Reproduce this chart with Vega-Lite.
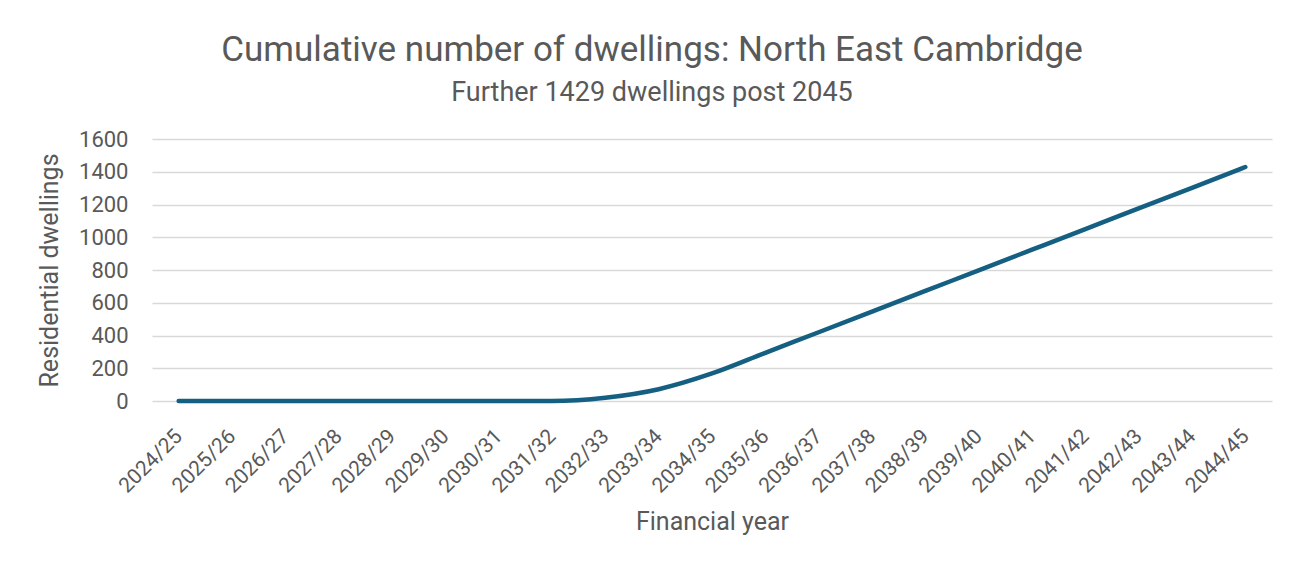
{
  "$schema": "https://vega.github.io/schema/vega-lite/v6.json",
  "autosize": "none",
  "width": 1120,
  "height": 262,
  "padding": {"left": 152, "top": 139, "right": 29, "bottom": 168},
  "background": "white",
  "title": {
    "text": "Cumulative number of dwellings: North East Cambridge",
    "subtitle": "Further 1429 dwellings post 2045",
    "anchor": "middle",
    "frame": "group",
    "dx": -60,
    "offset": 22,
    "font": "Roboto",
    "fontSize": 35,
    "fontWeight": "normal",
    "color": "#595959",
    "subtitleFont": "Roboto",
    "subtitleFontSize": 27,
    "subtitleColor": "#595959",
    "subtitlePadding": 12
  },
  "data": {
    "values": [
      {"year": "2024/25", "dwellings": 0},
      {"year": "2025/26", "dwellings": 0},
      {"year": "2026/27", "dwellings": 0},
      {"year": "2027/28", "dwellings": 0},
      {"year": "2028/29", "dwellings": 0},
      {"year": "2029/30", "dwellings": 0},
      {"year": "2030/31", "dwellings": 0},
      {"year": "2031/32", "dwellings": 0},
      {"year": "2032/33", "dwellings": 20},
      {"year": "2033/34", "dwellings": 72},
      {"year": "2034/35", "dwellings": 168},
      {"year": "2035/36", "dwellings": 294},
      {"year": "2036/37", "dwellings": 420},
      {"year": "2037/38", "dwellings": 546},
      {"year": "2038/39", "dwellings": 672},
      {"year": "2039/40", "dwellings": 798},
      {"year": "2040/41", "dwellings": 924},
      {"year": "2041/42", "dwellings": 1050},
      {"year": "2042/43", "dwellings": 1176},
      {"year": "2043/44", "dwellings": 1302},
      {"year": "2044/45", "dwellings": 1429}
    ]
  },
  "mark": {"type": "line", "color": "#156082", "strokeWidth": 4.5, "strokeCap": "round", "strokeJoin": "round", "interpolate": "monotone"},
  "encoding": {
    "x": {
      "field": "year",
      "type": "ordinal",
      "sort": null,
      "scale": {"type": "point", "padding": 0.5},
      "axis": {
        "title": "Financial year",
        "labelAngle": -45,
        "labelAlign": "right",
        "labelBaseline": "middle",
        "labelPadding": 32,
        "labelFontSize": 21,
        "ticks": false,
        "domain": false,
        "grid": false,
        "titlePadding": 13
      }
    },
    "y": {
      "field": "dwellings",
      "type": "quantitative",
      "scale": {"domain": [0, 1600]},
      "axis": {
        "title": "Residential dwellings",
        "format": "d",
        "values": [0, 200, 400, 600, 800, 1000, 1200, 1400, 1600],
        "ticks": false,
        "domain": false,
        "labelPadding": 24,
        "titlePadding": 16
      }
    }
  },
  "config": {
    "view": {"stroke": null},
    "axis": {
      "labelFont": "Roboto",
      "labelFontSize": 22,
      "labelColor": "#595959",
      "titleFont": "Roboto",
      "titleFontSize": 25,
      "titleFontWeight": "normal",
      "titleColor": "#595959",
      "gridColor": "#D9D9D9",
      "gridWidth": 1.5
    }
  }
}
